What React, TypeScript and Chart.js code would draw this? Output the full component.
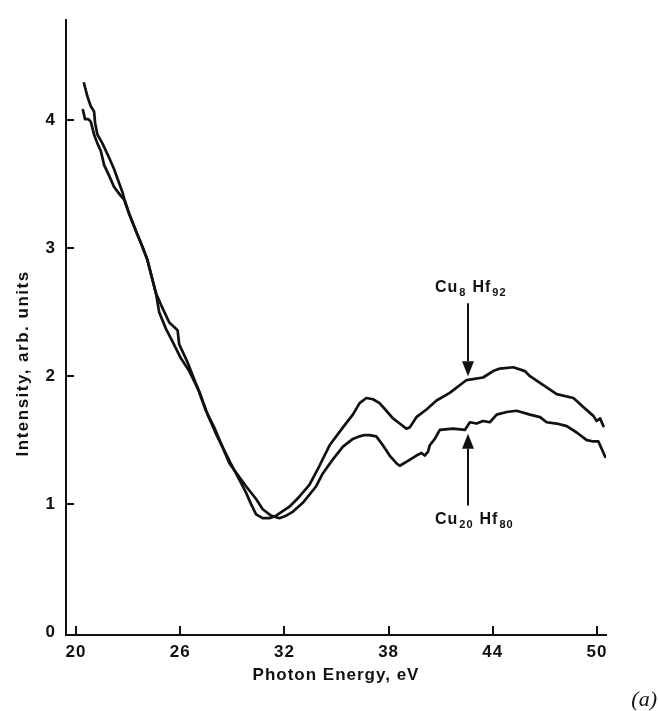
import React, { useEffect, useRef } from "react";
import { Chart, registerables } from "chart.js";

Chart.register(...registerables);

// ---- data ----
const xTickValues = [20, 26, 32, 38, 44, 50];
const yTickValues = [0, 1, 2, 3, 4];

const cu8X = [
  20.4, 20.52, 20.71, 20.85, 21.04, 21.23, 21.43, 21.62, 21.9, 22.19, 22.58, 22.77, 23.06, 23.44, 23.83,
  24.11, 24.6, 24.79, 25.18, 25.56, 26.04, 26.52, 27.1, 27.58, 28.06, 28.9, 29.6, 29.79, 30.08, 30.37,
  30.75, 31.14, 31.52, 32.29, 32.87, 33.44, 34.02, 34.6, 35.37, 35.94, 36.33, 36.72, 37.1, 37.48, 37.87,
  38.25, 38.64, 39.02, 39.22, 39.6, 40.18, 40.76, 41.52, 42.49, 43.44, 44.02, 44.41, 45.18, 45.85, 46.14,
  46.91, 47.68, 48.64, 49.21, 49.79, 49.98, 50.18, 50.37,
];
const cu8Y = [
  4.08, 4.01, 4.01, 3.99, 3.89, 3.82, 3.76, 3.65, 3.57, 3.48, 3.41, 3.38, 3.27, 3.14, 3.01,
  2.91, 2.65, 2.5, 2.37, 2.27, 2.14, 2.04, 1.88, 1.7, 1.55, 1.32, 1.14, 1.09, 1.0, 0.92,
  0.89, 0.89, 0.91, 0.98, 1.06, 1.15, 1.3, 1.46, 1.6, 1.7, 1.79, 1.83, 1.82, 1.79, 1.73,
  1.67, 1.63, 1.59, 1.6, 1.68, 1.74, 1.81, 1.87, 1.97, 1.99, 2.04, 2.06, 2.07, 2.04, 2.0,
  1.93, 1.86, 1.83, 1.76, 1.69, 1.65, 1.67, 1.61,
];

const cu20X = [
  20.46, 20.65, 20.85, 21.04, 21.1, 21.23, 21.52, 21.9, 22.19, 22.48, 22.67, 22.77, 23.06, 23.44, 23.83,
  24.11, 24.6, 24.89, 25.37, 25.85, 25.94, 26.42, 27.0, 27.48, 27.96, 28.83, 29.79, 30.37, 30.75, 31.23,
  31.71, 32.1, 32.48, 33.06, 33.83, 34.21, 34.79, 35.37, 35.94, 36.33, 36.62, 36.91, 37.29, 37.67, 38.06,
  38.45, 38.64, 39.02, 39.6, 39.89, 40.08, 40.27, 40.37, 40.66, 40.95, 41.71, 42.39, 42.68, 43.06, 43.44,
  43.83, 44.22, 44.8, 45.37, 46.14, 46.72, 47.1, 47.68, 48.26, 48.83, 49.41, 49.79, 50.08, 50.47,
];
const cu20Y = [
  4.29, 4.19, 4.11, 4.07, 3.98, 3.89, 3.82, 3.71, 3.62, 3.51, 3.44, 3.39, 3.27, 3.14, 3.01,
  2.91, 2.65, 2.56, 2.42, 2.36, 2.25, 2.11, 1.91, 1.73, 1.6, 1.32, 1.14, 1.04, 0.96, 0.91,
  0.89, 0.91, 0.94, 1.01, 1.14, 1.24, 1.35, 1.45, 1.51, 1.53, 1.54, 1.54, 1.53, 1.46, 1.38,
  1.32, 1.3, 1.33, 1.38, 1.4, 1.38, 1.41, 1.46, 1.51, 1.58, 1.59, 1.58, 1.64, 1.63, 1.65,
  1.64, 1.7, 1.72, 1.73, 1.7, 1.68, 1.64, 1.63, 1.61, 1.56, 1.5, 1.49, 1.49, 1.37,
];

const xTitle = "Photon Energy, eV";
const yTitle = "Intensity, arb. units";
const panelTag = "(a)";

// annotation labels: [text, isSubscript]
const cu8Label: [string, boolean][] = [["Cu", false], ["8", true], ["Hf", false], ["92", true]];
const cu20Label: [string, boolean][] = [["Cu", false], ["20", true], ["Hf", false], ["80", true]];

// annotation anchors in data units
const arrowX = 42.55;
const cu8Arrow = { from: 2.57, to: 2.0 };
const cu20Arrow = { from: 0.99, to: 1.55 };
const labelX = 40.67;
const cu8LabelY = 2.66;
const cu20LabelY = 0.847;
const yTitleCenter = 2.1; // data units along the y axis

const INK = "#111";
const FONT = '"Liberation Sans", Arial, sans-serif';

function drawChem(ctx: CanvasRenderingContext2D, parts: [string, boolean][], x: number, baseline: number) {
  let cx = x;
  ctx.textAlign = "left";
  ctx.textBaseline = "alphabetic";
  parts.forEach(([t, sub], i) => {
    ctx.font = sub ? `bold 11px ${FONT}` : `bold 16px ${FONT}`;
    ctx.fillText(t, cx, sub ? baseline + 4 : baseline);
    cx += ctx.measureText(t).width + (sub ? (i < parts.length - 1 ? 6 : 0) : 1);
  });
}

function drawArrow(ctx: CanvasRenderingContext2D, x: number, y0: number, y1: number) {
  const dir = y1 > y0 ? 1 : -1;
  const headLen = 15;
  const headHalf = 6;
  ctx.beginPath();
  ctx.moveTo(x, y0);
  ctx.lineTo(x, y1 - dir * headLen);
  ctx.stroke();
  ctx.beginPath();
  ctx.moveTo(x, y1);
  ctx.lineTo(x - headHalf, y1 - dir * headLen);
  ctx.lineTo(x + headHalf, y1 - dir * headLen);
  ctx.closePath();
  ctx.fill();
}

const decorPlugin = {
  id: "decor",
  beforeDraw(chart: any) {
    (chart.ctx as any).letterSpacing = "1px";
  },
  afterDraw(chart: any) {
    const ctx: CanvasRenderingContext2D = chart.ctx;
    const xs = chart.scales.x;
    const ys = chart.scales.y;
    const area = chart.chartArea;
    ctx.save();
    ctx.strokeStyle = INK;
    ctx.fillStyle = INK;
    ctx.lineWidth = 2;
    // inward tick marks
    xTickValues.forEach((v) => {
      const px = Math.round(xs.getPixelForValue(v));
      ctx.beginPath();
      ctx.moveTo(px, area.bottom);
      ctx.lineTo(px, area.bottom - 9);
      ctx.stroke();
    });
    yTickValues.forEach((v) => {
      if (v === 0) return;
      const py = Math.round(ys.getPixelForValue(v));
      ctx.beginPath();
      ctx.moveTo(area.left, py);
      ctx.lineTo(area.left + 8, py);
      ctx.stroke();
    });
    // arrows
    const ax = Math.round(xs.getPixelForValue(arrowX));
    drawArrow(ctx, ax, ys.getPixelForValue(cu8Arrow.from), ys.getPixelForValue(cu8Arrow.to));
    drawArrow(ctx, ax, ys.getPixelForValue(cu20Arrow.from), ys.getPixelForValue(cu20Arrow.to));
    // labels
    (ctx as any).letterSpacing = "1px";
    drawChem(ctx, cu8Label, xs.getPixelForValue(labelX), ys.getPixelForValue(cu8LabelY));
    drawChem(ctx, cu20Label, xs.getPixelForValue(labelX), ys.getPixelForValue(cu20LabelY));
    // y title
    ctx.save();
    (ctx as any).letterSpacing = "1.5px";
    ctx.font = `bold 17px ${FONT}`;
    ctx.translate(23, ys.getPixelForValue(yTitleCenter));
    ctx.rotate(-Math.PI / 2);
    ctx.textAlign = "center";
    ctx.textBaseline = "middle";
    ctx.fillText(yTitle, 0, 0);
    ctx.restore();
    // panel tag
    (ctx as any).letterSpacing = "0px";
    ctx.font = 'italic 22px "Liberation Serif", serif';
    ctx.textAlign = "right";
    ctx.textBaseline = "alphabetic";
    ctx.fillText(panelTag, 657, 706);
    ctx.restore();
  },
};

export default function App() {
  const ref = useRef<HTMLCanvasElement | null>(null);
  useEffect(() => {
    if (!ref.current) return;
    const tickFont = { family: FONT, size: 17, weight: "bold" as const };
    const line = (label: string, xs: number[], ys: number[]) => ({
      label,
      data: xs.map((x, i) => ({ x, y: ys[i] })),
      borderColor: INK,
      borderWidth: 2.7,
      pointRadius: 0,
      tension: 0,
      fill: false,
      borderJoinStyle: "round" as const,
      borderCapStyle: "round" as const,
    });
    const chart = new Chart(ref.current, {
      type: "line",
      data: {
        datasets: [line("Cu8Hf92", cu8X, cu8Y), line("Cu20Hf80", cu20X, cu20Y)],
      },
      options: {
        animation: false,
        responsive: false,
        layout: { padding: { top: 9, right: 52, left: 0, bottom: 0 } },
        plugins: { legend: { display: false }, tooltip: { enabled: false } },
        scales: {
          x: {
            type: "linear",
            min: 19.424,
            max: 50.518,
            afterFit: (s: any) => {
              s.height = 76;
            },
            afterBuildTicks: (s: any) => {
              s.ticks = xTickValues.map((v) => ({ value: v }));
            },
            grid: { display: false, drawTicks: false },
            border: { display: true, color: INK, width: 2 },
            ticks: {
              color: INK,
              font: tickFont,
              padding: 7,
              maxRotation: 0,
              autoSkip: false,
              callback: (v: any) => String(v),
            },
            title: {
              display: true,
              text: xTitle,
              color: INK,
              font: tickFont,
              padding: { top: 0, bottom: 25 },
            },
          },
          y: {
            type: "linear",
            min: -0.023,
            max: 4.783,
            afterFit: (s: any) => {
              s.width = 66;
            },
            afterBuildTicks: (s: any) => {
              s.ticks = yTickValues.map((v) => ({ value: v }));
            },
            grid: { display: false, drawTicks: false },
            border: { display: true, color: INK, width: 2 },
            ticks: {
              color: INK,
              font: tickFont,
              padding: 10,
              autoSkip: false,
              callback: (v: any) => String(v),
            },
            title: { display: false },
          },
        },
      },
      plugins: [decorPlugin],
    });
    return () => chart.destroy();
  }, []);
  return (
    <div style={{ position: "absolute", left: 0, top: 0, width: 658, height: 711, background: "#fff" }}>
      <canvas ref={ref} width={658} height={711} style={{ display: "block" }} />
    </div>
  );
}
